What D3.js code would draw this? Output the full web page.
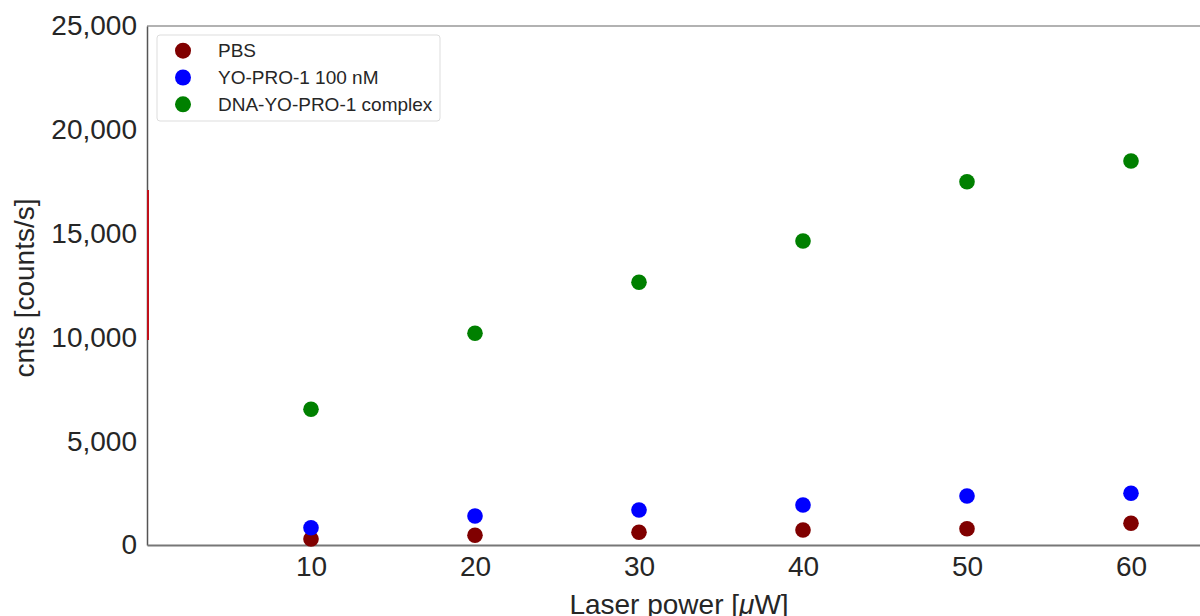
<!DOCTYPE html>
<html><head><meta charset="utf-8">
<script src="https://cdn.jsdelivr.net/npm/d3@7"></script>
<style>
body{margin:0;background:#fff;}
svg{display:block;font-family:"Liberation Sans",Arial,sans-serif;}
</style></head>
<body><svg id="c" width="1200" height="616"></svg>
<script>
const powers = [10, 20, 30, 40, 50, 60];
const pbs = [289, 467, 612, 723, 785, 1045];
const yopro = [833, 1397, 1686, 1927, 2360, 2490];
const dnaComplex = [6537, 10197, 12654, 14643, 17500, 18497];
const seriesNames = ["PBS", "YO-PRO-1 100 nM", "DNA-YO-PRO-1 complex"];
const seriesColors = ["#800000", "#0000ff", "#008000"];
const redSegment = [0, 9875, 17100]; // x, y0, y1
const xTicks = [10, 20, 30, 40, 50, 60];
const yTicks = [0, 5000, 10000, 15000, 20000, 25000];

const svg = d3.select("#c");
const x = d3.scaleLinear().domain([0, 65]).range([147, 1213]);
const y = d3.scaleLinear().domain([0, 25000]).range([545, 26]);

// top border
svg.append("line").attr("x1",147).attr("x2",1200).attr("y1",y(25000)).attr("y2",y(25000))
  .attr("stroke","#999").attr("stroke-width",1.5);

const fmt = d3.format(",");
const yAxis = svg.append("g").attr("transform","translate(147,0)")
  .call(d3.axisLeft(y).tickValues(yTicks).tickFormat(fmt).tickSize(0).tickPadding(10));
yAxis.select(".domain").attr("stroke","#555").attr("stroke-width",1.5);
yAxis.selectAll("text").attr("font-size",28).attr("fill","#262626")
  .attr("font-family","Liberation Sans, Arial, sans-serif");

const xAxis = svg.append("g").attr("transform","translate(0,545)")
  .call(d3.axisBottom(x).tickValues(xTicks).tickSize(0).tickPadding(11));
xAxis.select(".domain").attr("stroke","#777").attr("stroke-width",2);
xAxis.selectAll("text").attr("font-size",28).attr("fill","#262626")
  .attr("font-family","Liberation Sans, Arial, sans-serif");

// red segment at left axis
svg.append("line").attr("x1",x(redSegment[0])+1).attr("x2",x(redSegment[0])+1)
  .attr("y1",y(redSegment[1])).attr("y2",y(redSegment[2]))
  .attr("stroke","#c0101a").attr("stroke-width",2);

const all = [pbs, yopro, dnaComplex];
all.forEach((vals, i) => {
  svg.append("g").selectAll("circle").data(vals).join("circle")
    .attr("cx",(d,j)=>x(powers[j])).attr("cy",d=>y(d)).attr("r",7.8)
    .attr("fill",seriesColors[i]);
});

// legend
const lg = svg.append("g");
lg.append("rect").attr("x",157).attr("y",35).attr("width",283).attr("height",86)
  .attr("rx",3).attr("fill","#fff").attr("stroke","#ddd").attr("stroke-width",1);
seriesNames.forEach((n,i)=>{
  const cy = 50.7 + i*26.8;
  lg.append("circle").attr("cx",183).attr("cy",cy).attr("r",8).attr("fill",seriesColors[i]);
  lg.append("text").attr("x",218).attr("y",cy).attr("dy","0.35em").attr("font-size",19)
    .attr("fill","#262626").text(n);
});

// axis titles
svg.append("text").attr("x",679).attr("y",614).attr("text-anchor","middle")
  .attr("font-size",28).attr("fill","#262626")
  .html('Laser power [<tspan font-style="italic">μ</tspan>W]');
svg.append("text").attr("transform","translate(34,288) rotate(-90)")
  .attr("text-anchor","middle").attr("font-size",28).attr("fill","#262626").text("cnts [counts/s]");
</script></body></html>
